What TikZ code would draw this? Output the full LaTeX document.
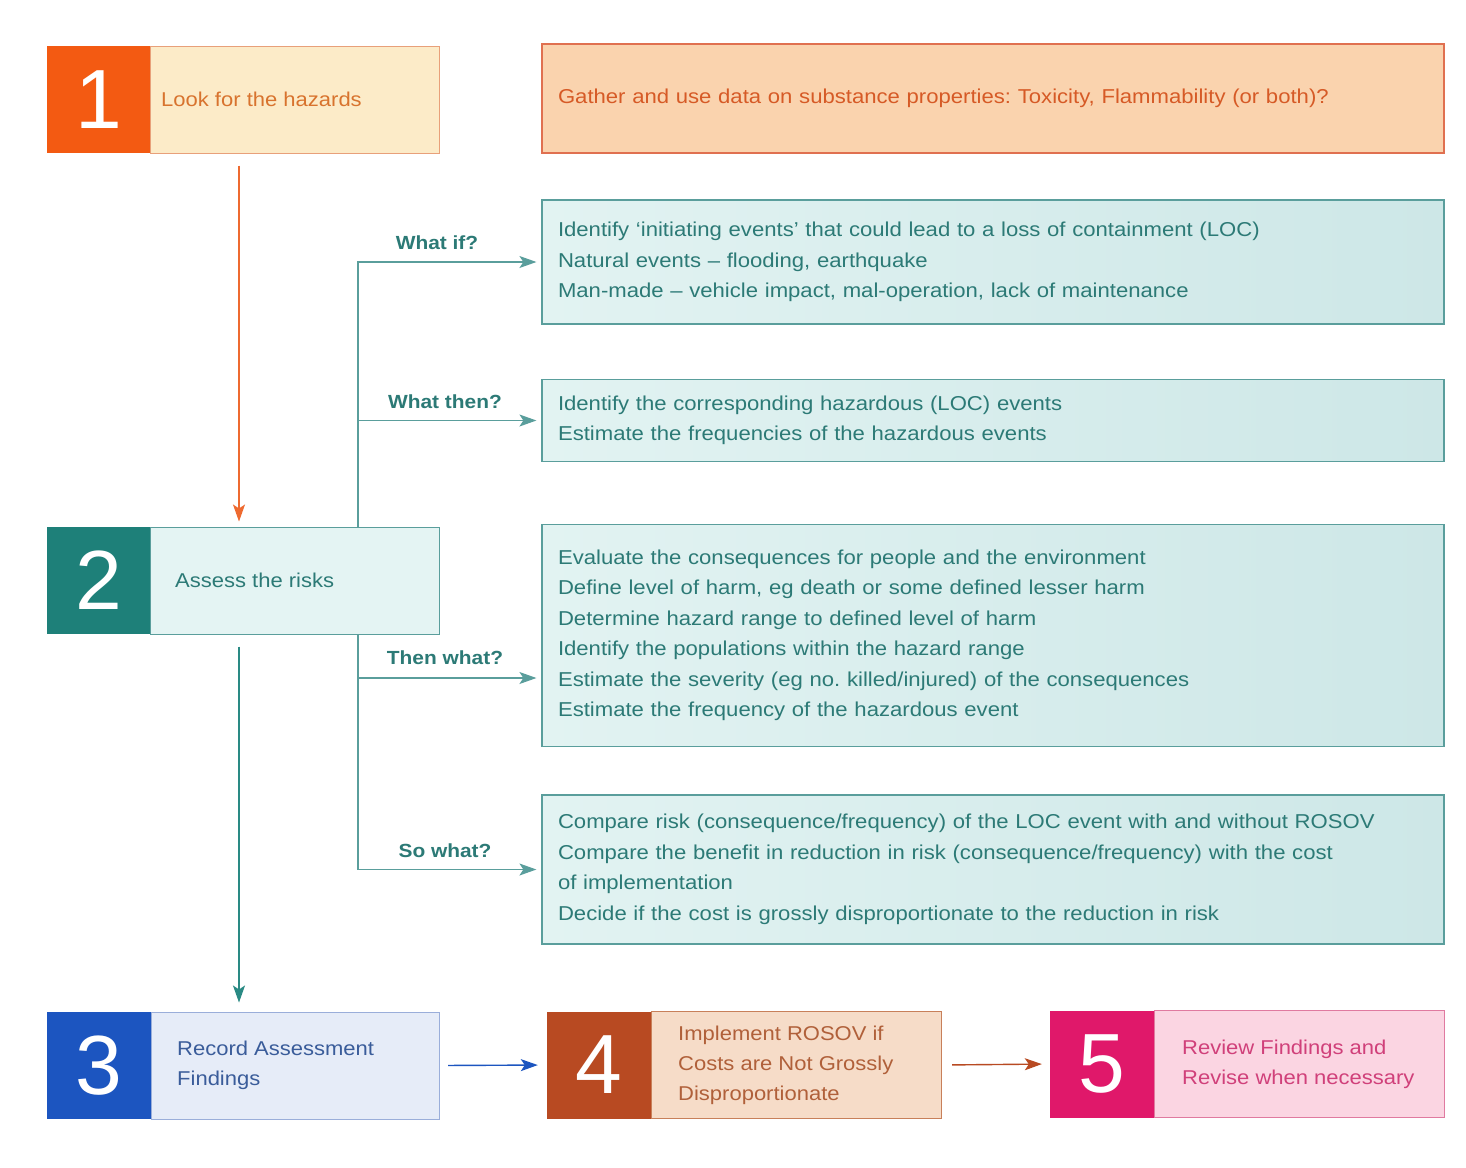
\documentclass[tikz,border=0pt]{standalone}
\usepackage{fontspec}
\setmainfont{Liberation Sans}[FakeStretch=1.1]
\newfontfamily\numfont{Liberation Sans}
\usetikzlibrary{arrows.meta}
\definecolor{onenum}{HTML}{F35A12}
\definecolor{onebg}{HTML}{FCEBC8}
\definecolor{onetxt}{HTML}{D8732E}
\definecolor{oneline}{HTML}{E8A07A}
\definecolor{gatherbg}{HTML}{FAD3AE}
\definecolor{gatherline}{HTML}{E07050}
\definecolor{gathertxt}{HTML}{D65A26}
\definecolor{tealnum}{HTML}{1E8079}
\definecolor{tealbg}{HTML}{E4F4F3}
\definecolor{tealL}{HTML}{E2F3F2}
\definecolor{tealR}{HTML}{CDE7E7}
\definecolor{tealline}{HTML}{5A9E9C}
\definecolor{tealtxt}{HTML}{2C7A76}
\definecolor{tealarrow}{HTML}{2A8A84}
\definecolor{bluenum}{HTML}{1C55C0}
\definecolor{bluebg}{HTML}{E6ECF8}
\definecolor{bluetxt}{HTML}{3A5C9A}
\definecolor{blueline}{HTML}{9AAEDA}
\definecolor{rustnum}{HTML}{B84A22}
\definecolor{rustbg}{HTML}{F6DCC8}
\definecolor{rusttxt}{HTML}{B0603A}
\definecolor{rustline}{HTML}{C8805A}
\definecolor{magnum}{HTML}{E0186A}
\definecolor{magbg}{HTML}{FBD5E2}
\definecolor{magtxt}{HTML}{D0407A}
\definecolor{magline}{HTML}{E07AA0}
\definecolor{orangearrow}{HTML}{EE6A30}
\frenchspacing
\begin{document}
\begin{tikzpicture}[x=1pt,y=-1pt,
  numbox/.style={rectangle, inner sep=0pt, minimum width=103pt, minimum height=107pt, text=white,
    font=\numfont\fontsize{84}{84}\selectfont},
  stepbox/.style={rectangle, draw, line width=1pt, inner sep=0pt, minimum height=107pt, anchor=west},
  steptext/.style={inner sep=0pt, anchor=west, align=left, font=\fontsize{20}{30}\selectfont},
  infobox/.style={rectangle, draw=tealline, line width=1.2pt, left color=tealL, right color=tealR,
    inner xsep=16pt, inner ysep=0pt, text width=870pt, align=left, text=tealtxt,
    font=\fontsize{20.1}{30.5}\selectfont},
  lbl/.style={text=tealtxt, font=\bfseries\fontsize{19}{21}\selectfont},
  branch/.style={draw=tealline, line width=1.2pt},
  branchto/.style={branch, -{Stealth[length=17pt,width=12pt,inset=4pt]}, shorten >=5pt},
  flow/.style={line width=1.4pt, -{Stealth[length=17pt,width=12pt,inset=4pt]}}
]
\useasboundingbox (0,0) rectangle (1466,1167);
\fill[white] (0,0) rectangle (1466,1167);

% step 1
\node[stepbox, fill=onebg, draw=oneline, minimum width=289pt] (t1) at (150,99.5) {};
\node[numbox, fill=onenum] (n1) at (98.5,99.5) {1};
\node[steptext, text=onetxt] (s1) at ([xshift=11pt]t1.west) {Look for the hazards};

% gather box
\node[rectangle, draw=gatherline, line width=1.4pt, fill=gatherbg, inner xsep=16pt, inner ysep=0pt,
  minimum height=109pt, text width=870pt, align=left, text=gathertxt,
  font=\fontsize{20.1}{30}\selectfont] (g) at (993,98.5)
  {Gather and use data on substance properties: Toxicity, Flammability (or both)?};

% step 2
\node[stepbox, fill=tealbg, draw=tealline, minimum width=289pt] (t2) at (150,580.5) {};
\node[numbox, fill=tealnum] (n2) at (98.5,580.5) {2};
\node[steptext, text=tealtxt] (s2) at ([xshift=25pt]t2.west) {Assess the risks};

% step 3
\node[stepbox, fill=bluebg, draw=blueline, minimum width=288pt] (t3) at (151,1065.5) {};
\node[numbox, fill=bluenum, minimum width=104pt] (n3) at (99,1065.5) {3};
\node[steptext, text=bluetxt] (s3) at ([xshift=26pt]t3.west) {Record Assessment\\Findings};

% step 4
\node[stepbox, fill=rustbg, draw=rustline, minimum width=290pt] (t4) at (651,1065) {};
\node[numbox, fill=rustnum, minimum width=104pt] (n4) at (599,1065) {4};
\node[steptext, text=rusttxt] (s4) at ([xshift=27pt]t4.west) {Implement ROSOV if\\Costs are Not Grossly\\Disproportionate};

% step 5
\node[stepbox, fill=magbg, draw=magline, minimum width=290pt] (t5) at (1154,1064) {};
\node[numbox, fill=magnum, minimum width=104pt] (n5) at (1102,1064) {5};
\node[steptext, text=magtxt] (s5) at ([xshift=28pt]t5.west) {Review Findings and\\Revise when necessary};

% info boxes
\node[infobox, minimum height=124pt] (wi) at (993,262)
  {Identify `initiating events' that could lead to a loss of containment (LOC)\\Natural events -- flooding, earthquake\\Man-made -- vehicle impact, mal-operation, lack of maintenance};
\node[infobox, minimum height=82pt] (wt) at (993,420.5)
  {Identify the corresponding hazardous (LOC) events\\Estimate the frequencies of the hazardous events};
\node[infobox, minimum height=222pt] (tw) at (993,635.5)
  {Evaluate the consequences for people and the environment\\Define level of harm, eg death or some defined lesser harm\\Determine hazard range to defined level of harm\\Identify the populations within the hazard range\\Estimate the severity (eg no. killed/injured) of the consequences\\Estimate the frequency of the hazardous event};
\node[infobox, minimum height=149pt] (sw) at (993,869.5)
  {Compare risk (consequence/frequency) of the LOC event with and without ROSOV\\Compare the benefit in reduction in risk (consequence/frequency) with the cost\\of implementation\\Decide if the cost is grossly disproportionate to the reduction in risk};

% branch connectors
\draw[branchto] ([xshift=208pt]t2.north west) |- (wi.west);
\draw[branchto] ([xshift=208pt]t2.north west) |- (wt.west);
\draw[branchto] ([xshift=208pt]t2.south west) |- ([yshift=-42.5pt]tw.west);
\draw[branchto] ([xshift=208pt]t2.south west) |- (sw.west);

\node[lbl] (lwi) at (437,243) {What if?};
\node[lbl] (lwt) at (445,402) {What then?};
\node[lbl] (ltw) at (445,658) {Then what?};
\node[lbl] (lsw) at (445,851) {So what?};

% main flow
\draw[flow, draw=orangearrow, shorten <=12pt, shorten >=5pt] ([xshift=89pt]t1.south west) -- ([xshift=89pt]t2.north west);
\draw[flow, draw=tealarrow, line width=1.2pt, shorten <=12pt, shorten >=9pt] ([xshift=89pt]t2.south west) -- ([xshift=88pt]t3.north west);
\draw[flow, draw=bluenum, shorten <=8pt, shorten >=9pt] (t3.east) -- (n4.west);
\draw[flow, draw=rustnum, shorten <=10pt, shorten >=8pt] (t4.east) -- (n5.west);
\end{tikzpicture}
\end{document}
